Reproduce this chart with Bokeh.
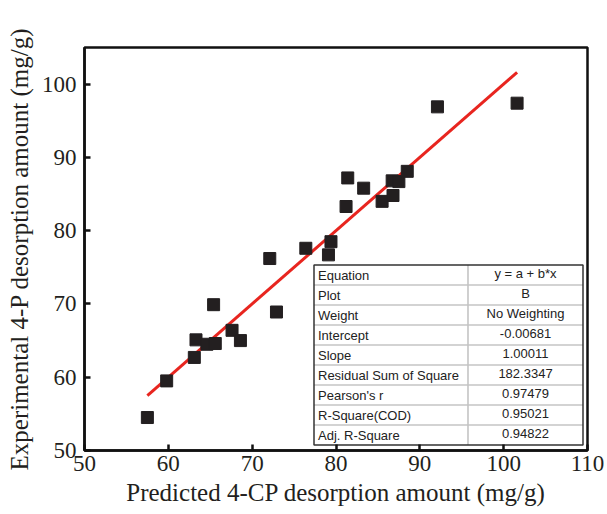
import numpy as np
from bokeh.plotting import figure
from bokeh.models import Range1d, FixedTicker
from bokeh.core.properties import value
from bokeh.embed import file_html
from bokeh.resources import INLINE

# ---- data ----
predicted = [57.5, 59.8, 63.1, 63.3, 64.6, 65.6, 65.4, 67.6, 68.6, 72.1, 72.9,
             76.4, 79.1, 79.4, 81.2, 81.4, 83.3, 85.5, 86.8, 86.7, 87.5, 88.5,
             92.1, 101.6]
experimental = [54.5, 59.5, 62.7, 65.1, 64.5, 64.6, 69.9, 66.4, 65.0, 76.2, 68.9,
                77.6, 76.7, 78.5, 83.3, 87.2, 85.8, 84.0, 84.8, 86.8, 86.7, 88.1,
                96.9, 97.4]
intercept = -0.00681
slope = 1.00011
x_ticks = [50, 60, 70, 80, 90, 100, 110]
y_ticks = [50, 60, 70, 80, 90, 100]
x_title = "Predicted 4-CP desorption amount (mg/g)"
y_title = "Experimental 4-P desorption amount (mg/g)"
stat_names = ["Equation", "Plot", "Weight", "Intercept", "Slope",
              "Residual Sum of Square", "Pearson's r", "R-Square(COD)",
              "Adj. R-Square"]
stat_values = ["y = a + b*x", "B", "No Weighting", "-0.00681", "1.00011",
               "182.3347", "0.97479", "0.95021", "0.94822"]

X0, X1, Y0, Y1 = 50, 110, 50, 105
FW, FH = 503, 403

p = figure(width=607, height=514, output_backend="svg", toolbar_location=None,
           x_range=Range1d(X0, X1), y_range=Range1d(Y0, Y1),
           min_border_left=84, min_border_right=20, min_border_top=47,
           min_border_bottom=64)

serif = "Liberation Serif"
for ax, ticks in ((p.xaxis, x_ticks), (p.yaxis, y_ticks)):
    ax.ticker = FixedTicker(ticks=ticks)
    ax.major_tick_in = 6
    ax.major_tick_out = 0
    ax.minor_tick_in = 0
    ax.minor_tick_out = 0
    ax.axis_line_width = 2.5
    ax.axis_line_color = "#111111"
    ax.major_tick_line_width = 2.5
    ax.major_tick_line_color = "#111111"
    ax.major_label_text_font = serif
    ax.major_label_text_font_size = "23px"
    ax.major_label_text_color = "#231f20"
    ax.axis_label_text_font = serif
    ax.axis_label_text_font_size = "25px"
    ax.axis_label_text_font_style = "normal"
    ax.axis_label_text_color = "#231f20"
p.xaxis.axis_label = x_title
p.yaxis.axis_label = y_title
p.xaxis.major_label_standoff = 5
p.yaxis.major_label_standoff = 8
p.xaxis.axis_label_standoff = 5
p.yaxis.axis_label_standoff = 6
p.grid.visible = False
p.outline_line_color = "#111111"
p.outline_line_width = 2.5
p.outline_line_alpha = 1.0

# fit line
xl = np.array([min(predicted), max(predicted)])
p.line(xl, intercept + slope * xl, line_color="#e8251f", line_width=3)

# points
p.scatter(predicted, experimental, marker="square", size=12,
          fill_color="#231f20", line_color="#231f20")

# ---- statistics table (pixel geometry relative to the frame) ----
def fx(px):
    return X0 + px * (X1 - X0) / FW

def fy(py):
    return Y1 - py * (Y1 - Y0) / FH

t_left, t_right, t_div, t_top, row_h = 229.5, 498.5, 383.5, 217.5, 20
n = len(stat_names)
t_bot = t_top + n * row_h

p.quad(left=fx(t_left), right=fx(t_right), top=fy(t_top), bottom=fy(t_bot),
       fill_color="white", line_color="white", line_width=0)
ys = [fy(t_top + i * row_h) for i in range(1, n)]
p.segment(x0=[fx(t_left)] * (n - 1), x1=[fx(t_right)] * (n - 1), y0=ys, y1=ys,
          line_color="#c4c4c4", line_width=1.6)
p.segment(x0=[fx(t_div)], x1=[fx(t_div)], y0=[fy(t_top)], y1=[fy(t_bot)],
          line_color="#c4c4c4", line_width=1.6)
p.quad(left=fx(t_left), right=fx(t_right), top=fy(t_top), bottom=fy(t_bot),
       fill_alpha=0, line_color="#333333", line_width=1.5)

row_c = [fy(t_top + (i + 0.5) * row_h) for i in range(n)]
row_v = [fy(t_top + (i + 0.5) * row_h - 2) for i in range(n)]
sans = "Liberation Sans"
p.text(x=[fx(t_left + 4)] * n, y=row_c, text=stat_names,
       text_font=value(sans), text_font_size=value("13px"),
       text_color="#222222", text_align="left", text_baseline="middle")
p.text(x=[fx((t_div + t_right) / 2)] * n, y=row_v, text=stat_values,
       text_font=value(sans), text_font_size=value("13px"),
       text_color="#222222", text_align="center", text_baseline="middle")

open("out.html", "w").write(file_html(p, INLINE))
